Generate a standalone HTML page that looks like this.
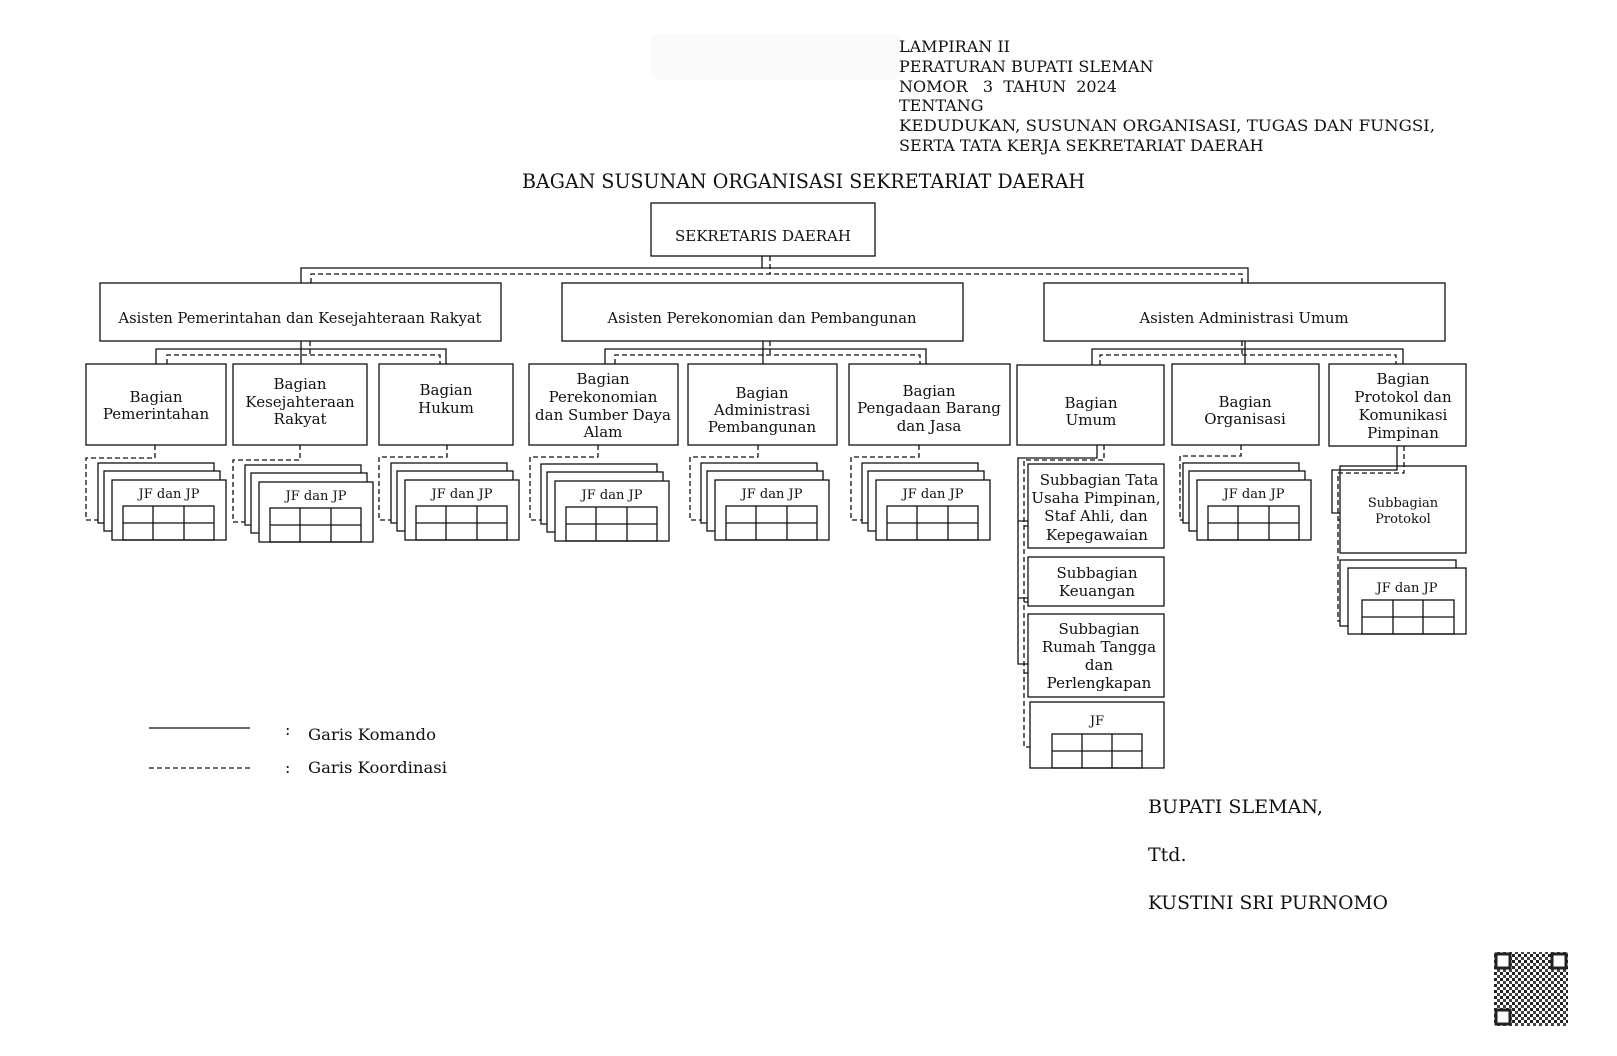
<!DOCTYPE html>
<html><head><meta charset="utf-8">
<style>
html,body{margin:0;padding:0;background:#fff;}
svg{display:block;}
text{font-family:"DejaVu Serif","Liberation Serif",serif;fill:#111;}
</style></head>
<body>
<svg width="1617" height="1056" viewBox="0 0 1617 1056" xmlns="http://www.w3.org/2000/svg">
<defs>
<g id="stk" fill="#fff" stroke="#111" stroke-width="1.3">
 <rect x="-14" y="-17" width="116" height="60"/>
 <rect x="-8" y="-9" width="116" height="60"/>
 <rect x="0" y="0" width="114" height="60"/>
 <rect x="11" y="26" width="91" height="34" fill="none"/>
 <path d="M41 26V60M72 26V60M11 43H102" fill="none"/>
</g>
<pattern id="qr" width="6" height="6" patternUnits="userSpaceOnUse">
 <rect width="6" height="6" fill="#fff"/>
 <rect width="3" height="3" fill="#222"/><rect x="3" y="3" width="3" height="3" fill="#444"/>
</pattern>
</defs>
<rect x="651" y="34" width="250" height="46" rx="8" fill="#fafafa"/>
<g font-size="16">
<text x="899" y="52">LAMPIRAN II</text>
<text x="899" y="72">PERATURAN BUPATI SLEMAN</text>
<text x="899" y="92" xml:space="preserve">NOMOR   3  TAHUN  2024</text>
<text x="899" y="111">TENTANG</text>
<text x="899" y="131" textLength="536" lengthAdjust="spacingAndGlyphs">KEDUDUKAN, SUSUNAN ORGANISASI, TUGAS DAN FUNGSI,</text>
<text x="899" y="151">SERTA TATA KERJA SEKRETARIAT DAERAH</text>
</g>
<text x="522" y="188" font-size="20" textLength="563" lengthAdjust="spacingAndGlyphs">BAGAN SUSUNAN ORGANISASI SEKRETARIAT DAERAH</text>

<g fill="none" stroke="#111" stroke-width="1.3">
 <rect x="651" y="203" width="224" height="53" fill="#fff"/>
 <path d="M762 256V268M301 283V268H1248V283"/>
 <path d="M311 283V274H1242V283M770 256V274" stroke-dasharray="5,3"/>
 <rect x="100" y="283" width="401" height="58"/>
 <rect x="562" y="283" width="401" height="58"/>
 <rect x="1044" y="283" width="401" height="58"/>
 <path d="M301 341V364M156 364V349H446V364"/>
 <path d="M310 341V355M167 364V355H440V364" stroke-dasharray="5,3"/>
 <rect x="86" y="364" width="140" height="81"/><rect x="233" y="364" width="134" height="81"/><rect x="379" y="364" width="134" height="81"/>
 <path d="M763 341V364M605 364V349H926V364"/>
 <path d="M770 341V355M615 364V355H920V364" stroke-dasharray="5,3"/>
 <rect x="529" y="364" width="149" height="81"/><rect x="688" y="364" width="149" height="81"/><rect x="849" y="364" width="161" height="81"/>
 <path d="M1245 341V364M1092 365V349H1403V364"/>
 <path d="M1242 341V355M1100 365V355H1396V364" stroke-dasharray="5,3"/>
 <rect x="1017" y="365" width="147" height="80"/><rect x="1172" y="364" width="147" height="81"/><rect x="1329" y="364" width="137" height="82"/>
 <g stroke-dasharray="5,3">
 <path d="M155 445V458H86V520H98"/>
 <path d="M300 445V460H233V522H245"/>
 <path d="M447 445V457H379V520H391"/>
 <path d="M598 445V457H530V520H541"/>
 <path d="M758 445V457H690V520H701"/>
 <path d="M919 445V457H851V520H862"/>
 <path d="M1241 445V456H1180V520H1183"/>
 <path d="M1104 445V460H1024V747H1030M1024 526H1028M1024 602H1028M1024 673H1028"/>
 <path d="M1404 446V473H1338V621H1348M1338 520H1340"/>
 </g>
 <path d="M1097 445V458H1018V664H1028M1018 521H1028M1018 598H1028"/>
 <path d="M1397 446V470H1332V513H1340"/>
 <rect x="1028" y="464" width="136" height="84"/>
 <rect x="1028" y="557" width="136" height="49"/>
 <rect x="1028" y="614" width="136" height="83"/>
 <rect x="1030" y="702" width="134" height="66"/>
 <rect x="1052" y="734" width="90" height="34"/><path d="M1082 734V768M1112 734V768M1052 751H1142"/>
 <rect x="1340" y="466" width="126" height="87"/>
 <rect x="1340" y="560" width="116" height="66" fill="#fff"/>
 <rect x="1348" y="568" width="118" height="66" fill="#fff"/>
 <rect x="1362" y="600" width="92" height="34"/><path d="M1393 600V634M1423 600V634M1362 617H1454"/>
 <path d="M149 728H250"/>
 <path d="M149 768H250" stroke-dasharray="5,3"/>
</g>
<use href="#stk" x="112" y="480"/>
<use href="#stk" x="259" y="482"/>
<use href="#stk" x="405" y="480"/>
<use href="#stk" x="555" y="481"/>
<use href="#stk" x="715" y="480"/>
<use href="#stk" x="876" y="480"/>
<use href="#stk" x="1197" y="480"/>

<g font-size="13" text-anchor="middle">
 <text x="169" y="498">JF dan JP</text>
 <text x="316" y="500">JF dan JP</text>
 <text x="462" y="498">JF dan JP</text>
 <text x="612" y="499">JF dan JP</text>
 <text x="772" y="498">JF dan JP</text>
 <text x="933" y="498">JF dan JP</text>
 <text x="1254" y="498">JF dan JP</text>
 <text x="1407" y="592">JF dan JP</text>
 <text x="1097" y="725">JF</text>
 <text x="1403" y="507">Subbagian</text>
 <text x="1403" y="523">Protokol</text>
</g>
<g font-size="15" text-anchor="middle">
 <text x="763" y="241">SEKRETARIS DAERAH</text>
 <text x="300" y="323" textLength="363" lengthAdjust="spacingAndGlyphs">Asisten Pemerintahan dan Kesejahteraan Rakyat</text>
 <text x="762" y="323" textLength="309" lengthAdjust="spacingAndGlyphs">Asisten Perekonomian dan Pembangunan</text>
 <text x="1244" y="323" textLength="209" lengthAdjust="spacingAndGlyphs">Asisten Administrasi Umum</text>
 <text x="156" y="402">Bagian</text><text x="156" y="419">Pemerintahan</text>
 <text x="300" y="389">Bagian</text><text x="300" y="407">Kesejahteraan</text><text x="300" y="424">Rakyat</text>
 <text x="446" y="395">Bagian</text><text x="446" y="413">Hukum</text>
 <text x="603" y="384">Bagian</text><text x="603" y="402">Perekonomian</text><text x="603" y="420">dan Sumber Daya</text><text x="603" y="437">Alam</text>
 <text x="762" y="398">Bagian</text><text x="762" y="415">Administrasi</text><text x="762" y="432">Pembangunan</text>
 <text x="929" y="396">Bagian</text><text x="929" y="413">Pengadaan Barang</text><text x="929" y="431">dan Jasa</text>
 <text x="1091" y="408">Bagian</text><text x="1091" y="425">Umum</text>
 <text x="1245" y="407">Bagian</text><text x="1245" y="424">Organisasi</text>
 <text x="1403" y="384">Bagian</text><text x="1403" y="402">Protokol dan</text><text x="1403" y="420">Komunikasi</text><text x="1403" y="438">Pimpinan</text>
 <text x="1099" y="485">Subbagian Tata</text><text x="1096" y="503">Usaha Pimpinan,</text><text x="1096" y="521">Staf Ahli, dan</text><text x="1097" y="540">Kepegawaian</text>
 <text x="1097" y="578">Subbagian</text><text x="1097" y="596">Keuangan</text>
 <text x="1099" y="634">Subbagian</text><text x="1099" y="652">Rumah Tangga</text><text x="1099" y="670">dan</text><text x="1099" y="688">Perlengkapan</text>
</g>
<g font-size="16">
 <text x="285" y="735">:</text><text x="308" y="740" textLength="128" lengthAdjust="spacingAndGlyphs">Garis Komando</text>
 <text x="285" y="773">:</text><text x="308" y="773" textLength="139" lengthAdjust="spacingAndGlyphs">Garis Koordinasi</text>
</g>
<g font-size="19">
 <text x="1148" y="813" textLength="175" lengthAdjust="spacingAndGlyphs">BUPATI SLEMAN,</text>
 <text x="1148" y="861">Ttd.</text>
 <text x="1148" y="909" textLength="240" lengthAdjust="spacingAndGlyphs">KUSTINI SRI PURNOMO</text>
</g>
<rect x="1494" y="952" width="74" height="74" fill="url(#qr)"/>
<g fill="#fff" stroke="#222" stroke-width="3">
 <rect x="1496" y="954" width="14" height="14"/>
 <rect x="1552" y="954" width="14" height="14"/>
 <rect x="1496" y="1010" width="14" height="14"/>
</g>
</svg>
</body></html>
